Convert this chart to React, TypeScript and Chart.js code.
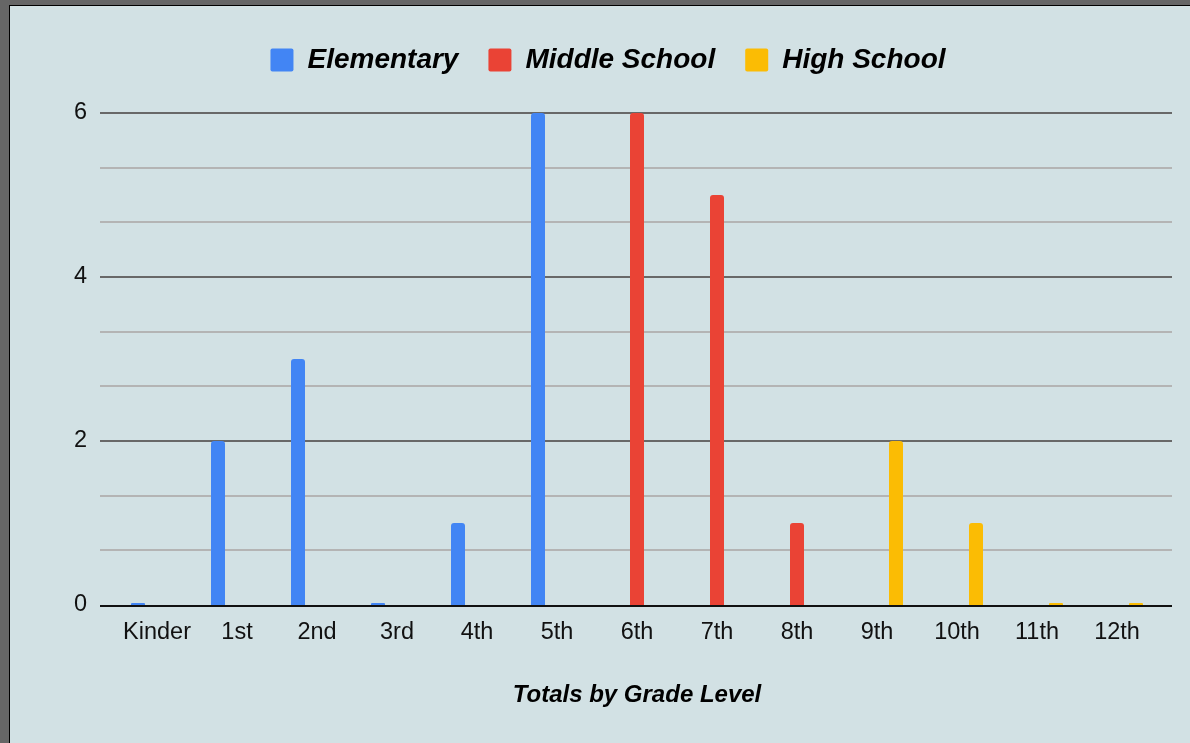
import React, { useEffect, useRef } from "react";
import { Chart, registerables } from "chart.js";

Chart.register(...registerables);

const categories = ["Kinder", "1st", "2nd", "3rd", "4th", "5th", "6th", "7th", "8th", "9th", "10th", "11th", "12th"];
const elementary = [0, 2, 3, 0, 1, 6, null, null, null, null, null, null, null];
const middleSchool = [null, null, null, null, null, null, 6, 5, 1, null, null, null, null];
const highSchool = [null, null, null, null, null, null, null, null, null, 2, 1, 0, 0];
const yTicks = [0, 2, 4, 6];
const minorDivisions = 3;

const FONT = "'Liberation Sans', Arial, Helvetica, sans-serif";

const sheetGrid = {
  id: "sheetGrid",
  beforeInit(chart: any) {
    const legend = chart.legend;
    if (legend) {
      const orig = legend.fit;
      legend.fit = function () {
        orig.call(this);
        this.height = 97;
      };
    }
  },
  beforeDatasetsDraw(chart: any) {
    const { ctx, chartArea, scales } = chart;
    const y = scales.y;
    const left = chartArea.left - 17;
    const right = chartArea.right + 15;
    ctx.save();
    ctx.lineWidth = 2;
    ctx.strokeStyle = "#b4b4b4";
    for (let i = 0; i < yTicks.length - 1; i++) {
      for (let k = 1; k < minorDivisions; k++) {
        const v = yTicks[i] + ((yTicks[i + 1] - yTicks[i]) * k) / minorDivisions;
        const py = Math.round(y.getPixelForValue(v));
        ctx.beginPath();
        ctx.moveTo(left, py);
        ctx.lineTo(right, py);
        ctx.stroke();
      }
    }
    ctx.strokeStyle = "#686868";
    for (const v of yTicks) {
      if (v === 0) continue;
      const py = Math.round(y.getPixelForValue(v));
      ctx.beginPath();
      ctx.moveTo(left, py);
      ctx.lineTo(right, py);
      ctx.stroke();
    }
    ctx.restore();
  },
  afterDatasetsDraw(chart: any) {
    const { ctx, chartArea, scales } = chart;
    const y = scales.y;
    const py = Math.round(y.getPixelForValue(0)) + 1;
    ctx.save();
    ctx.lineWidth = 2;
    ctx.strokeStyle = "#111111";
    ctx.beginPath();
    ctx.moveTo(chartArea.left - 17, py);
    ctx.lineTo(chartArea.right + 15, py);
    ctx.stroke();
    ctx.restore();
  },
};

export default function App() {
  const canvasRef = useRef<HTMLCanvasElement | null>(null);

  useEffect(() => {
    document.body.style.margin = "0";
    const canvas = canvasRef.current;
    if (!canvas) return;
    const barCommon = {
      categoryPercentage: 0.7125,
      barPercentage: 1,
      maxBarThickness: 14,
      minBarLength: 2,
      borderWidth: 0,
      borderSkipped: "bottom" as const,
      borderRadius: { topLeft: 3, topRight: 3, bottomLeft: 0, bottomRight: 0 },
    };
    const chart = new Chart(canvas, {
      type: "bar",
      data: {
        labels: categories,
        datasets: [
          { label: "Elementary", data: elementary, backgroundColor: "#4285f4", ...barCommon },
          { label: "Middle School", data: middleSchool, backgroundColor: "#ea4335", ...barCommon },
          { label: "High School", data: highSchool, backgroundColor: "#fbbc04", ...barCommon },
        ] as any,
      },
      options: {
        animation: false,
        responsive: false,
        maintainAspectRatio: false,
        layout: { padding: { top: 10, left: 49, right: 33, bottom: 33 } },
        plugins: {
          legend: {
            display: true,
            position: "top",
            labels: {
              boxWidth: 23,
              boxHeight: 23,
              padding: 30,
              color: "#000",
              useBorderRadius: true,
              borderRadius: 2,
              font: { family: FONT, size: 28, weight: "bold", style: "italic" },
            } as any,
          },
          tooltip: { enabled: false },
        },
        scales: {
          x: {
            grid: { display: false, drawTicks: false },
            border: { display: false },
            ticks: {
              color: "#111",
              padding: 13,
              maxRotation: 0,
              autoSkip: false,
              font: { family: FONT, size: 23.5 },
            },
            title: {
              display: true,
              text: "Totals by Grade Level",
              color: "#000",
              padding: { top: 0, bottom: 0 },
              font: { family: FONT, size: 24, weight: "bold", style: "italic" },
            },
            afterFit: (scale: any) => {
              scale.height = 105;
            },
          },
          y: {
            min: 0,
            max: 6,
            grid: { display: false, drawTicks: false },
            border: { display: false },
            ticks: {
              stepSize: 2,
              color: "#111",
              padding: 30,
              font: { family: FONT, size: 23.5 },
            },
            afterFit: (scale: any) => {
              scale.width = 58;
            },
          },
        },
      },
      plugins: [sheetGrid],
    });
    return () => chart.destroy();
  }, []);

  return (
    <div style={{ position: "absolute", left: 0, top: 0, width: 1190, height: 743, background: "#666666", overflow: "hidden" }}>
      <div
        style={{
          position: "absolute",
          left: 9,
          top: 5,
          width: 1181,
          height: 738,
          borderTop: "1px solid #000",
          borderLeft: "1px solid #000",
          background: "#d2e1e4",
        }}
      >
        <canvas ref={canvasRef} width={1180} height={737} style={{ display: "block", width: 1180, height: 737 }} />
      </div>
    </div>
  );
}
